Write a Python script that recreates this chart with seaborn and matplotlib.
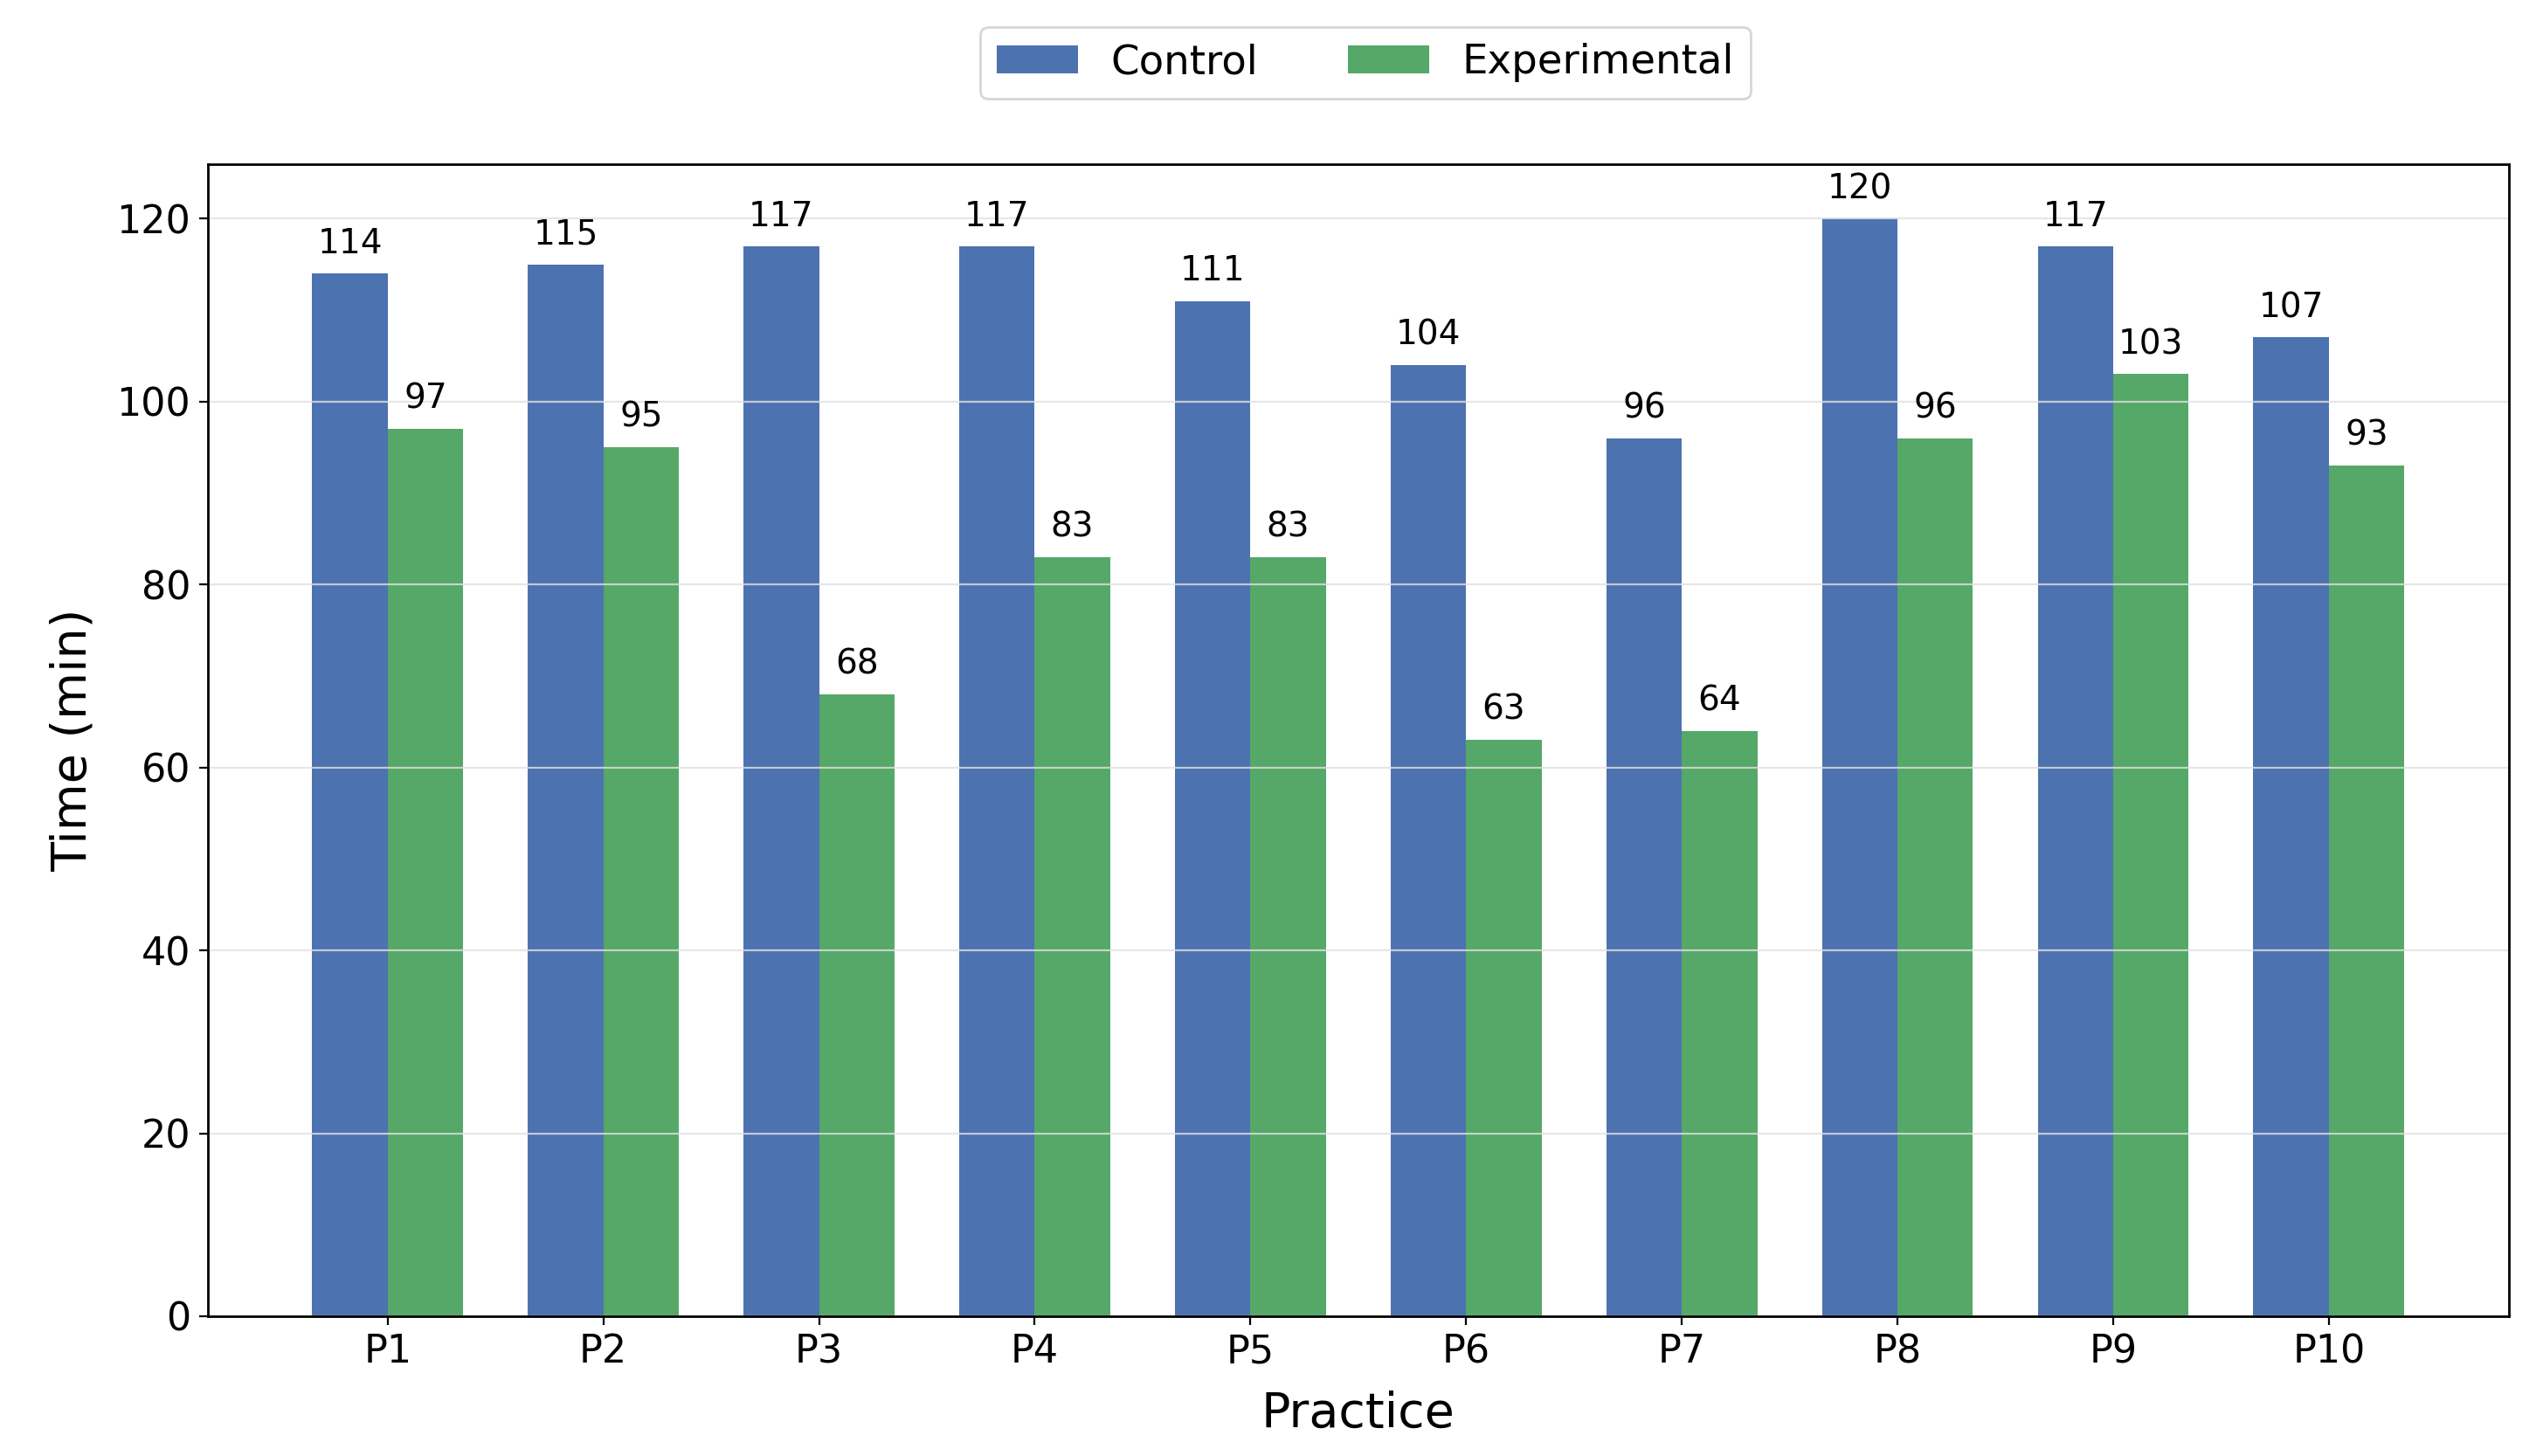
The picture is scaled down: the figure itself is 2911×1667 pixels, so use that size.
import pandas as pd
import numpy as np
import matplotlib
matplotlib.use("Agg")
import matplotlib.pyplot as plt
import seaborn as sns

practices = ['P1', 'P2', 'P3', 'P4', 'P5', 'P6', 'P7', 'P8', 'P9', 'P10']
control = [114, 115, 117, 117, 111, 104, 96, 120, 117, 107]
experimental = [97, 95, 68, 83, 83, 63, 64, 96, 103, 93]
groups = ['Control', 'Experimental']
colors = ['#4C72B0', '#55A868']

df = pd.DataFrame({
    'Practice': practices * 2,
    'Time': control + experimental,
    'Group': ['Control'] * len(practices) + ['Experimental'] * len(practices),
})

plt.rcParams['font.family'] = ['DejaVu Sans']

fig = plt.figure(figsize=(14.555, 8.335), dpi=200)
ax = fig.add_axes([0.0816, 0.096, 0.905, 0.7915])

sns.barplot(data=df, x='Practice', y='Time', hue='Group', hue_order=groups,
            palette=colors, width=0.7, saturation=1, ax=ax, legend=True)

# value labels over each bar
for cont in ax.containers:
    for bar in cont:
        h = bar.get_height()
        ax.annotate(f'{int(h)}', (bar.get_x() + bar.get_width() / 2, h),
                    xytext=(0, 5.5), textcoords='offset points',
                    ha='center', va='bottom', fontsize=14)

ax.set_xlim(-0.835, 9.835)
ax.set_ylim(0, 126)
ax.set_xlabel('Practice', fontsize=20, labelpad=8)
ax.set_ylabel('Time (min)', fontsize=20, labelpad=8)
ax.tick_params(axis='both', labelsize=16)
ax.grid(axis='y', color='#e0e0e0', linewidth=0.8, alpha=0.8)
for s in ax.spines.values():
    s.set_color('black')
    s.set_linewidth(1.0)

ax.legend(loc='center', bbox_to_anchor=(0.537, 0.957), bbox_transform=fig.transFigure,
          ncol=2, fontsize=16.8, frameon=True, edgecolor='#cccccc', columnspacing=2.2)

fig.savefig('out.png', dpi=200)
